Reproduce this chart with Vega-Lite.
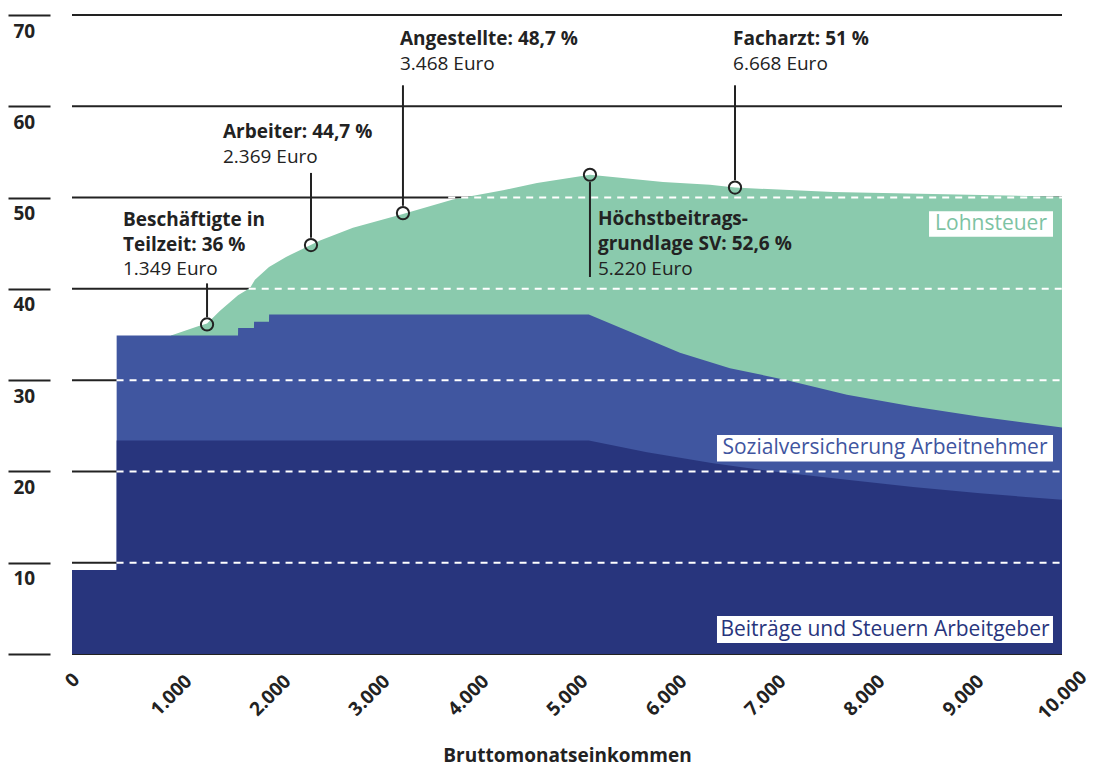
{
  "$schema": "https://vega.github.io/schema/vega-lite/v6.json",
  "width": 990,
  "height": 639,
  "autosize": {"type": "none"},
  "padding": {"left": 72, "top": 15, "right": 32, "bottom": 113},
  "background": "white",
  "config": {"view": {"stroke": null}, "font": "Open Sans"},
  "datasets": {
    "grid": [{"v": 0}, {"v": 10}, {"v": 20}, {"v": 30}, {"v": 40}, {"v": 50}, {"v": 60}, {"v": 70}],
    "dash": [
      {"v": 10, "a": 450, "b": 10000},
      {"v": 20, "a": 450, "b": 10000},
      {"v": 30, "a": 450, "b": 10000},
      {"v": 40, "a": 1785, "b": 10000},
      {"v": 50, "a": 3800, "b": 10000}
    ],
    "tot": [
      {"x": 1000, "y": 34.9}, {"x": 1273, "y": 35.9}, {"x": 1364, "y": 36.2}, {"x": 1495, "y": 37.6},
      {"x": 1677, "y": 39.3}, {"x": 1798, "y": 40.1}, {"x": 1848, "y": 41.0}, {"x": 1990, "y": 42.4},
      {"x": 2162, "y": 43.5}, {"x": 2333, "y": 44.4}, {"x": 2505, "y": 45.3}, {"x": 2838, "y": 46.7},
      {"x": 3343, "y": 48.2}, {"x": 3848, "y": 49.8}, {"x": 4354, "y": 50.8}, {"x": 4697, "y": 51.6},
      {"x": 5232, "y": 52.5}, {"x": 5970, "y": 51.7}, {"x": 6444, "y": 51.4}, {"x": 6697, "y": 51.1},
      {"x": 7687, "y": 50.6}, {"x": 8697, "y": 50.4}, {"x": 10000, "y": 50.1}
    ],
    "sv": [
      {"x": 451, "y": 34.9}, {"x": 1677, "y": 34.9}, {"x": 1678, "y": 35.7}, {"x": 1838, "y": 35.7},
      {"x": 1839, "y": 36.4}, {"x": 1990, "y": 36.4}, {"x": 1991, "y": 37.2}, {"x": 5220, "y": 37.2},
      {"x": 5636, "y": 35.3}, {"x": 6141, "y": 33.0}, {"x": 6646, "y": 31.3}, {"x": 7222, "y": 30.0},
      {"x": 7828, "y": 28.4}, {"x": 8495, "y": 27.1}, {"x": 9172, "y": 26.0}, {"x": 10000, "y": 24.8}
    ],
    "ag": [
      {"x": 0, "y": 9.2}, {"x": 450, "y": 9.2}, {"x": 451, "y": 23.4}, {"x": 5220, "y": 23.4},
      {"x": 5808, "y": 22.1}, {"x": 6475, "y": 20.9}, {"x": 7152, "y": 19.9}, {"x": 7828, "y": 19.1},
      {"x": 8495, "y": 18.3}, {"x": 9172, "y": 17.6}, {"x": 10000, "y": 16.9}
    ],
    "callouts": [
      {"name": "Teilzeit", "x": 1364, "cy": 36.1, "l1": 36.9, "l2": 40.6},
      {"name": "Arbeiter", "x": 2414, "cy": 44.8, "l1": 45.6, "l2": 52.7},
      {"name": "Angestellte", "x": 3343, "cy": 48.3, "l1": 49.1, "l2": 62.3},
      {"name": "Höchstbeitragsgrundlage", "x": 5232, "cy": 52.5, "l1": 41.3, "l2": 51.7},
      {"name": "Facharzt", "x": 6697, "cy": 51.1, "l1": 51.9, "l2": 62.3}
    ],
    "notes": [
      {"line": "Beschäftigte in", "x": 515, "y": 47.5, "bold": true},
      {"line": "Teilzeit: 36 %", "x": 515, "y": 44.8, "bold": true},
      {"line": "1.349 Euro", "x": 515, "y": 42.2, "bold": false},
      {"line": "Arbeiter: 44,7 %", "x": 1525, "y": 57.2, "bold": true},
      {"line": "2.369 Euro", "x": 1525, "y": 54.4, "bold": false},
      {"line": "Angestellte: 48,7 %", "x": 3313, "y": 67.35, "bold": true},
      {"line": "3.468 Euro", "x": 3313, "y": 64.6, "bold": false},
      {"line": "Facharzt: 51 %", "x": 6677, "y": 67.35, "bold": true},
      {"line": "6.668 Euro", "x": 6677, "y": 64.6, "bold": false},
      {"line": "Höchstbeitrags-", "x": 5313, "y": 47.6, "bold": true},
      {"line": "grundlage SV: 52,6 %", "x": 5313, "y": 44.9, "bold": true},
      {"line": "5.220 Euro", "x": 5313, "y": 42.2, "bold": false}
    ],
    "series": [
      {"t": "Lohnsteuer", "x1": 8657, "x2": 9909, "y1": 45.7, "y2": 48.5, "cx": 9283, "cy": 47.1},
      {"t": "Sozialversicherung Arbeitnehmer", "x1": 6515, "x2": 9909, "y1": 21.1, "y2": 24.0, "cx": 8212, "cy": 22.55},
      {"t": "Beiträge und Steuern Arbeitgeber", "x1": 6515, "x2": 9909, "y1": 1.2, "y2": 4.15, "cx": 8212, "cy": 2.65}
    ]
  },
  "layer": [
    {
      "data": {"name": "grid"},
      "mark": {"type": "rule", "stroke": "#222222", "strokeWidth": 2},
      "encoding": {
        "y": {
          "field": "v", "type": "quantitative", "title": null,
          "scale": {"domain": [0, 70], "nice": false, "zero": false},
          "axis": {
            "values": [0, 10, 20, 30, 40, 50, 60, 70],
            "offset": 22, "tickSize": 42, "tickWidth": 2, "tickColor": "#222222",
            "domain": false, "grid": false,
            "labelAlign": "left", "labelBaseline": "middle", "labelPadding": -5, "labelOffset": 16,
            "labelFont": "Open Sans", "labelFontSize": 19, "labelFontWeight": "bold", "labelColor": "#222222",
            "labelExpr": "datum.value == 0 ? '' : datum.label",
            "title": null
          }
        }
      }
    },
    {
      "data": {"name": "tot"},
      "mark": {"type": "area", "color": "#8ACAAD"},
      "encoding": {
        "x": {
          "field": "x", "type": "quantitative", "title": "Bruttomonatseinkommen",
          "scale": {"domain": [0, 10000], "nice": false, "zero": false},
          "axis": {
            "values": [0, 1000, 2000, 3000, 4000, 5000, 6000, 7000, 8000, 9000, 10000],
            "domain": false, "ticks": false, "grid": false,
            "labelAngle": -45, "labelAlign": "center", "labelBaseline": "middle",
            "labelPadding": {"condition": {"test": "datum.value == 0", "value": 26}, "value": 41},
            "labelFont": "Open Sans", "labelFontSize": 19, "labelFontWeight": "bold", "labelColor": "#222222",
            "labelExpr": "replace(format(datum.value, ','), ',', '.')",
            "title": "Bruttomonatseinkommen",
            "titleFont": "Open Sans", "titleFontSize": 19, "titleFontWeight": "bold", "titleColor": "#222222",
            "titleX": 495, "titleY": 101, "titleBaseline": "middle", "titleAlign": "center"
          }
        },
        "y": {"field": "y", "type": "quantitative", "title": null}
      }
    },
    {
      "data": {"name": "sv"},
      "mark": {"type": "area", "color": "#4056A0"},
      "encoding": {
        "x": {"field": "x", "type": "quantitative", "title": "Bruttomonatseinkommen"},
        "y": {"field": "y", "type": "quantitative", "title": null}
      }
    },
    {
      "data": {"name": "ag"},
      "mark": {"type": "area", "color": "#28357D"},
      "encoding": {
        "x": {"field": "x", "type": "quantitative", "title": "Bruttomonatseinkommen"},
        "y": {"field": "y", "type": "quantitative", "title": null}
      }
    },
    {
      "data": {"name": "dash"},
      "mark": {"type": "rule", "stroke": "white", "strokeWidth": 2, "strokeDash": [7, 6]},
      "encoding": {
        "x": {"field": "a", "type": "quantitative", "title": "Bruttomonatseinkommen"},
        "x2": {"field": "b"},
        "y": {"field": "v", "type": "quantitative", "title": null}
      }
    },
    {
      "data": {"name": "callouts"},
      "mark": {"type": "rule", "stroke": "#222222", "strokeWidth": 2},
      "encoding": {
        "x": {"field": "x", "type": "quantitative", "title": "Bruttomonatseinkommen"},
        "y": {"field": "l1", "type": "quantitative", "title": null},
        "y2": {"field": "l2"}
      }
    },
    {
      "data": {"name": "callouts"},
      "mark": {"type": "point", "shape": "circle", "filled": false, "stroke": "#222222", "strokeWidth": 2, "size": 150, "opacity": 1},
      "encoding": {
        "x": {"field": "x", "type": "quantitative", "title": "Bruttomonatseinkommen"},
        "y": {"field": "cy", "type": "quantitative", "title": null}
      }
    },
    {
      "data": {"name": "notes"},
      "transform": [{"filter": "datum.bold"}],
      "mark": {"type": "text", "align": "left", "baseline": "middle", "font": "Open Sans", "fontSize": 19, "fontWeight": "bold", "color": "#222222"},
      "encoding": {
        "x": {"field": "x", "type": "quantitative", "title": "Bruttomonatseinkommen"},
        "y": {"field": "y", "type": "quantitative", "title": null},
        "text": {"field": "line"}
      }
    },
    {
      "data": {"name": "notes"},
      "transform": [{"filter": "!datum.bold"}],
      "mark": {"type": "text", "align": "left", "baseline": "middle", "font": "Open Sans", "fontSize": 19, "fontWeight": "normal", "color": "#222222"},
      "encoding": {
        "x": {"field": "x", "type": "quantitative", "title": "Bruttomonatseinkommen"},
        "y": {"field": "y", "type": "quantitative", "title": null},
        "text": {"field": "line"}
      }
    },
    {
      "data": {"name": "series"},
      "mark": {"type": "rect", "color": "white"},
      "encoding": {
        "x": {"field": "x1", "type": "quantitative", "title": "Bruttomonatseinkommen"},
        "x2": {"field": "x2"},
        "y": {"field": "y1", "type": "quantitative", "title": null},
        "y2": {"field": "y2"}
      }
    },
    {
      "data": {"name": "series"},
      "mark": {"type": "text", "align": "center", "baseline": "middle", "font": "Open Sans", "fontSize": 21},
      "encoding": {
        "x": {"field": "cx", "type": "quantitative", "title": "Bruttomonatseinkommen"},
        "y": {"field": "cy", "type": "quantitative", "title": null},
        "text": {"field": "t"},
        "color": {
          "field": "t", "type": "nominal", "legend": null,
          "scale": {
            "domain": ["Lohnsteuer", "Sozialversicherung Arbeitnehmer", "Beiträge und Steuern Arbeitgeber"],
            "range": ["#7DC3A3", "#3F55A0", "#28357D"]
          }
        }
      }
    }
  ]
}
